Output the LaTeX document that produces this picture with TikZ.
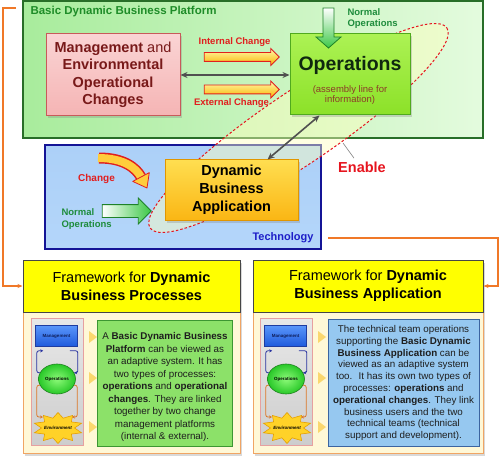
\documentclass[tikz,border=0pt]{standalone}
\usepackage{fontspec}
\setmainfont{Liberation Sans}
\usetikzlibrary{shapes.geometric,shapes.arrows,shadows,arrows.meta}

\newcommand{\fsz}[2]{\fontsize{#1}{#2}\selectfont}

\definecolor{platedge}{RGB}{40,110,40}
\definecolor{plattxt}{RGB}{30,140,40}
\definecolor{platL}{RGB}{168,236,156}
\definecolor{platM}{RGB}{192,245,182}
\definecolor{platR}{RGB}{228,251,222}
\definecolor{techedge}{RGB}{20,20,150}
\definecolor{techtop}{RGB}{172,208,248}
\definecolor{techmid}{RGB}{238,244,255}
\definecolor{techbot}{RGB}{180,214,250}
\definecolor{techtxt}{RGB}{30,30,200}
\definecolor{enablered}{RGB}{230,20,30}
\definecolor{zoneyel}{RGB}{255,255,190}
\definecolor{mgedge}{RGB}{200,90,90}
\definecolor{mgtop}{RGB}{250,212,212}
\definecolor{mgbot}{RGB}{245,180,180}
\definecolor{mgtxt}{RGB}{120,25,25}
\definecolor{opsedge}{RGB}{80,170,30}
\definecolor{opstop}{RGB}{172,242,84}
\definecolor{opsbot}{RGB}{140,225,40}
\definecolor{opstxt}{RGB}{15,40,15}
\definecolor{opssub}{RGB}{140,60,40}
\definecolor{dbaedge}{RGB}{225,150,0}
\definecolor{dbatop}{RGB}{255,222,80}
\definecolor{dbabot}{RGB}{250,182,20}
\definecolor{chgred}{RGB}{225,30,30}
\definecolor{chgyel}{RGB}{255,250,170}
\definecolor{chgorg}{RGB}{250,180,0}
\definecolor{chgmid}{RGB}{255,205,60}
\definecolor{flowedge}{RGB}{30,130,40}
\definecolor{flowgrn}{RGB}{60,200,70}
\definecolor{flowtxt}{RGB}{30,140,60}
\definecolor{duplexgray}{RGB}{80,80,80}
\definecolor{linkorg}{RGB}{240,120,40}
\definecolor{frmedge}{RGB}{240,165,100}
\definecolor{frmbody}{RGB}{255,248,215}
\definecolor{hdryel}{RGB}{255,255,0}
\definecolor{hdredge}{RGB}{70,70,70}
\definecolor{noteL}{RGB}{140,225,105}
\definecolor{noteLedge}{RGB}{60,150,50}
\definecolor{noteR}{RGB}{150,200,240}
\definecolor{noteRedge}{RGB}{60,100,160}
\definecolor{notetxt}{RGB}{30,30,30}
\definecolor{paneledge}{RGB}{230,160,160}
\definecolor{panelA}{RGB}{232,232,232}
\definecolor{panelB}{RGB}{205,205,205}
\definecolor{miniblueA}{RGB}{90,150,250}
\definecolor{miniblueB}{RGB}{30,90,220}
\definecolor{miniblueedge}{RGB}{30,60,160}
\definecolor{minibluetxt}{RGB}{15,30,90}
\definecolor{minigrnA}{RGB}{140,250,120}
\definecolor{minigrnB}{RGB}{40,200,40}
\definecolor{minigrnedge}{RGB}{30,130,30}
\definecolor{staryel}{RGB}{255,210,40}
\definecolor{starorg}{RGB}{230,160,0}
\definecolor{loopblue}{RGB}{40,50,160}
\definecolor{looporg}{RGB}{220,120,40}
\definecolor{chevyel}{RGB}{250,215,110}

\begin{document}
\begin{tikzpicture}[x=1pt,y=-1pt,
	box/.style={draw,inner sep=0pt},
	shadowed/.style={drop shadow={opacity=0.3,shadow xshift=2pt,shadow yshift=-2.5pt}},
	chgarrow/.style={single arrow,draw=chgred,line width=0.8pt,top color=chgyel,bottom color=chgorg,inner sep=4pt,single arrow head extend=4pt,minimum width=0pt,minimum height=75pt},
	flowarrow/.style={single arrow,draw=flowedge,line width=0.8pt,left color=white,right color=flowgrn,inner sep=6pt,single arrow head extend=6.5pt,minimum width=0pt,minimum height=49pt},
	chglabel/.style={text=chgred,font=\fsz{9.5}{11}\bfseries},
	flowlabel/.style={anchor=west,align=left,text=flowtxt,font=\fsz{9.5}{11.5}\bfseries},
	duplex/.style={{Stealth[length=7pt,width=6pt]}-{Stealth[length=7pt,width=6pt]},draw=duplexgray,line width=1.6pt},
	link/.style={-{Stealth[length=5pt,width=4pt]},draw=linkorg,line width=1.2pt},
	enablezone/.style={draw=enablered,line width=1pt,dash pattern=on 2.5pt off 2pt,fill=zoneyel,fill opacity=0.45},
	header/.style={box,draw=hdredge,line width=1pt,fill=hdryel,minimum height=52pt,align=center,font=\fsz{14.5}{18}},
	frame/.style={box,shadowed,draw=frmedge,line width=1pt,fill=frmbody,minimum height=193pt},
	miniloop/.style={-{Stealth[length=3pt,width=3pt]},line width=0.8pt,rounded corners=2pt},
	minitext/.style={font=\fsz{4.5}{5}\bfseries}]
	\useasboundingbox (0,0) rectangle (500,465);
	\node[box,draw=platedge,line width=1.5pt,left color=platL,middle color=platM,right color=platR,minimum width=460pt,minimum height=137pt] (platform) at (253,69.5) {};
	\node[anchor=west,text=plattxt,font=\fsz{11.5}{14}\bfseries] (ptitle) at (27,12) {Basic Dynamic Business Platform};
	\node[box,draw=techedge,line width=1.5pt,top color=techtop,middle color=techmid,bottom color=techbot,minimum width=276pt,minimum height=104pt] (tech) at (183,197) {};
	\draw[enablezone,rotate around={34:(298.5,128)}] (298.5,128) ellipse [x radius=179,y radius=36];
	\node[box,shadowed,draw=mgedge,line width=1pt,top color=mgtop,bottom color=mgbot,minimum width=134pt,minimum height=82pt,align=center,text=mgtxt,font=\fsz{14.5}{17.5}\bfseries] (mgmt) at (113,75) {Management \textmd{and}\\Environmental\\Operational\\Changes};
	\node[box,shadowed,draw=opsedge,line width=1pt,top color=opstop,bottom color=opsbot,minimum width=120pt,minimum height=81pt] (ops) at (350,74.5) {};
	\node[text=opstxt,font=\fsz{19.5}{22}\bfseries] (opsT) at (350,65) {Operations};
	\node[align=center,text=opssub,font=\fsz{9.5}{10.5}] (opsS) at (350,95) {(assembly line for\\information)};
	\node[box,shadowed,draw=dbaedge,line width=1pt,top color=dbatop,bottom color=dbabot,minimum width=133pt,minimum height=60pt,align=center,font=\fsz{14.5}{18}\bfseries] (dba) at (231.5,190) {Dynamic\\Business\\Application};
	\node[chgarrow] (intarr) at (239.5,57) {};
	\node[chgarrow] (extarr) at (239.5,89.5) {};
	\node[chglabel] (intlbl) at (234.5,42) {Internal Change};
	\node[chglabel] (extlbl) at (231.5,103) {External Change};
	\draw[duplex] (mgmt.east) -- (mgmt.east -| ops.west);
	\draw[duplex] ([xshift=30pt]ops.south west) -- ([xshift=103pt]dba.north west);
	\shadedraw[draw=flowedge,line width=0.8pt,top color=white,bottom color=flowgrn] (323,8) -- (334,8) -- (334,37) -- (341,37) -- (328.5,48) -- (316,37) -- (323,37) -- cycle;
	\node[flowlabel] (toplbl) at (344,18.5) {Normal\\Operations};
	\draw[line width=11pt,chgred] (99,158) .. controls (124,158) and (136,168) .. (141,177);
	\draw[line width=8pt,chgmid] (98,158) .. controls (124,158) and (136,168) .. (141,177);
	\filldraw[draw=chgred,fill=chgmid,line width=0.8pt,line join=round] (149.3,172.6) -- (147,188) -- (132.7,181.4) -- cycle;
	\node[text=chgred,font=\fsz{10}{12}\bfseries] (chglbl) at (96.5,179) {Change};
	\node[flowarrow] (normarr) at (123.5,211) {};
	\node[flowlabel] (botlbl) at (58,219) {Normal\\Operations};
	\node[anchor=east,text=techtxt,font=\fsz{11}{13}\bfseries] (techlbl) at (317,238) {Technology};
	\node[text=enablered,font=\fsz{14.5}{16}\bfseries] (enable) at (362,167) {Enable};
	\coordinate (zonept) at (343,143);
	\draw[gray,line width=0.6pt] (zonept) -- ([xshift=-8pt]enable.north);
	\node[frame,minimum width=217pt] (frameL) at (131.5,356.5) {};
	\node[header,minimum width=217pt] (hdrL) at (131.5,286) {Framework for \textbf{Dynamic}\\\textbf{Business Processes}};
	\node[frame,minimum width=230pt] (frameR) at (368,356.5) {};
	\node[header,minimum width=230pt] (hdrR) at (368,286) {Framework for \textbf{Dynamic}\\\textbf{Business Application}};
	\node[box,draw=noteLedge,line width=0.8pt,fill=noteL,minimum width=135pt,minimum height=126pt] (noteL) at (164.5,383) {};
	\node[align=center,text=notetxt,font=\fsz{9.8}{12.5}] (noteLtxt) at (165,387) {A \textbf{Basic Dynamic Business}\\\textbf{Platform} can be viewed as\\an adaptive system. It has\\two types of processes:\\\textbf{operations} and \textbf{operational}\\\textbf{changes}. They are linked\\together by two change\\management platforms\\(internal \& external).};
	\node[box,draw=noteRedge,line width=0.8pt,fill=noteR,minimum width=151pt,minimum height=127pt] (noteR) at (403.5,382.5) {};
	\node[align=center,text=notetxt,font=\fsz{9.8}{11.8}] (noteRtxt) at (403.5,383) {The technical team operations\\supporting the \textbf{Basic Dynamic}\\\textbf{Business Application} can be\\viewed as an adaptive system\\too.~ It has its own two types of\\processes: \textbf{operations} and\\\textbf{operational changes}. They link\\business users and the two\\technical teams (technical\\support and development).};
	\foreach \dx/\pp in {0/L,229/R}{
		\begin{scope}[shift={(\dx,0)}]
			\node[box,draw=paneledge,line width=0.8pt,top color=panelA,bottom color=panelB,minimum width=52pt,minimum height=127pt] (\pp-panel) at (57,381.5) {};
			\node[box,minitext,draw=miniblueedge,line width=0.6pt,top color=miniblueA,bottom color=miniblueB,minimum width=42pt,minimum height=21pt,text=minibluetxt] (\pp-mg) at (56.5,336) {Management};
			\node[ellipse,minitext,draw=minigrnedge,line width=0.6pt,inner color=minigrnA,outer color=minigrnB,minimum width=37pt,minimum height=30pt,inner sep=0pt] (\pp-ops) at (57,379) {Operations};
			\node[star,star points=10,star point ratio=1.5,draw=starorg,line width=0.6pt,fill=staryel,minimum size=31pt,inner sep=0pt,xscale=1.6,transform shape] (\pp-env) at (58,428) {};
			\node[minitext,font=\fsz{4.5}{5}\bfseries\itshape] (\pp-envT) at (58,428) {Environment};
			\coordinate (\pp-envL) at (43,417);
			\coordinate (\pp-envR) at (72,417);
			\draw[miniloop,draw=loopblue] (\pp-ops.160) -- ++(-3,0) |- ([xshift=8pt,yshift=-4pt]\pp-mg.south west);
			\draw[miniloop,draw=loopblue] ([xshift=-8pt,yshift=-4pt]\pp-mg.south east) -- ++(8,0) |- (\pp-ops.20);
			\draw[miniloop,draw=looporg] (\pp-ops.200) -- ++(-3,0) |- (\pp-envL);
			\draw[miniloop,draw=looporg] (\pp-ops.340) -- ++(3,0) |- (\pp-envR);
			\foreach \cy in {337,378,427}
				\fill[chevyel] (89,{\cy-6}) -- (97,\cy) -- (89,{\cy+6}) -- cycle;
		\end{scope}
	}
	\coordinate (lnkL) at (16,8);
	\draw[link] (lnkL) -- ++(-13,0) |- (hdrL.west);
	\coordinate (lnkR) at (328,238);
	\draw[link] (lnkR) -- ++(170,0) |- (hdrR.east);
\end{tikzpicture}
\end{document}
